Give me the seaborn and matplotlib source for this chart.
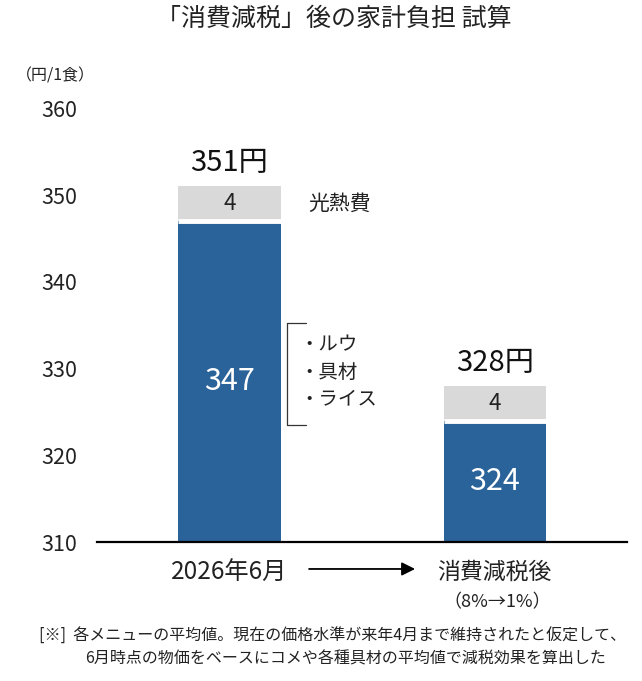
import matplotlib
matplotlib.use("Agg")
import matplotlib.pyplot as plt
import seaborn as sns
import pandas as pd

# ---- data ----
categories = ["2026年6月", "消費減税後"]
base_cost = [347, 324]        # ルウ・具材・ライス
energy_cost = [4, 4]          # 光熱費
total_cost = [351, 328]
yticks = [310, 320, 330, 340, 350, 360]

title = "「消費減税」後の家計負担 試算"
unit_label = "（円/1食）"
energy_label = "光熱費"
items_label = "・ルウ\n・具材\n・ライス"
sub_label = "（8%→1%）"
note_line1 = "[※]  各メニューの平均値。現在の価格水準が来年4月まで維持されたと仮定して、"
note_line2 = "6月時点の物価をベースにコメや各種具材の平均値で減税効果を算出した"

BLUE = "#2A6399"
GRAY = "#D9D9D9"
TXT = "#222222"

sns.set_theme(style="white")
plt.rcParams["font.family"] = ["Noto Sans CJK JP", "DejaVu Sans"]

df = pd.DataFrame({"cat": categories, "base": base_cost,
                   "energy": energy_cost, "total": total_cost})

fig = plt.figure(figsize=(6.42, 6.81), dpi=100)
ax = fig.add_axes([0.151, 0.204, 0.826, 0.637])

sns.barplot(data=df, x="cat", y="total", color=GRAY, width=0.385,
            linewidth=0, saturation=1, ax=ax)
n_gray = len(ax.patches)
sns.barplot(data=df, x="cat", y="base", color=BLUE, width=0.385,
            linewidth=0, saturation=1, ax=ax)
blue_patches = ax.patches[n_gray:]

ax.set_ylim(yticks[0], yticks[-1])
ax.set_xlim(-0.5, 1.5)
ax.set_yticks(yticks)
ax.set_yticklabels([str(t) for t in yticks], fontsize=15.5, color=TXT)
ax.tick_params(axis="y", length=0, pad=14)
ax.set_xticks([])
ax.set_xlabel("")
ax.set_ylabel("")
for s in ["left", "right", "top"]:
    ax.spines[s].set_visible(False)
ax.spines["bottom"].set_color("black")
ax.spines["bottom"].set_linewidth(1.6)

for i, p in enumerate(blue_patches):
    cx = p.get_x() + p.get_width() / 2
    # white separator between segments
    ax.plot([p.get_x(), p.get_x() + p.get_width()], [base_cost[i]] * 2,
            color="white", lw=3.5, solid_capstyle="butt", zorder=5)
    # base value in the visible blue area
    ax.text(cx, (yticks[0] + base_cost[i]) / 2, str(base_cost[i]),
            ha="center", va="center", color="white", fontsize=22, zorder=6)
    # energy value in gray segment
    ax.text(cx, base_cost[i] + energy_cost[i] / 2, str(energy_cost[i]),
            ha="center", va="center", color=TXT, fontsize=16, zorder=6)
    # total label
    ax.annotate(f"{total_cost[i]}円", (cx, total_cost[i]),
                xytext=(0, 6), textcoords="offset points",
                ha="center", va="bottom", fontsize=21, color="#111111")

# 光熱費 label
p0 = blue_patches[0]
ax.annotate(energy_label, (p0.get_x() + p0.get_width(), base_cost[0] + energy_cost[0] / 2),
            xytext=(20, 0), textcoords="offset points",
            ha="left", va="center", fontsize=15, color=TXT)

# bracket and item list
bx = p0.get_x() + p0.get_width() + 0.025
ax.plot([bx + 0.07, bx, bx, bx + 0.07], [335.3, 335.3, 323.5, 323.5],
        color="#333333", lw=0.9)
ax.text(bx + 0.045, 329.6, items_label, ha="left", va="center",
        fontsize=14, color=TXT, linespacing=1.37)

# category labels
for i, c in enumerate(categories):
    ax.annotate(c, (i, yticks[0]), xytext=(0, -22), textcoords="offset points",
                ha="center", va="center", fontsize=17.5 if i == 0 else 16.5,
                color=TXT, annotation_clip=False)
ax.annotate(sub_label, (1.01, yticks[0]), xytext=(0, -43), textcoords="offset points",
            ha="center", va="center", fontsize=13, color=TXT,
            annotation_clip=False)

# arrow between the category labels
xt = ax.get_xaxis_transform()
ax.annotate("", xy=(0.7, -0.062), xytext=(0.3, -0.062),
            xycoords=xt, textcoords=xt, annotation_clip=False,
            arrowprops=dict(arrowstyle="-|>", color="black", lw=1.3,
                            mutation_scale=20, shrinkA=0, shrinkB=0))

fig.text(0.52, 0.972, title, ha="center", va="center", fontsize=18, color=TXT)
fig.text(0.025, 0.888, unit_label, ha="left", va="center", fontsize=11.5, color=TXT)
fig.text(0.06, 0.066, note_line1, ha="left", va="center", fontsize=11.5, color=TXT)
fig.text(0.133, 0.032, note_line2, ha="left", va="center", fontsize=11.5, color=TXT)

fig.savefig("out.png", dpi=100)
